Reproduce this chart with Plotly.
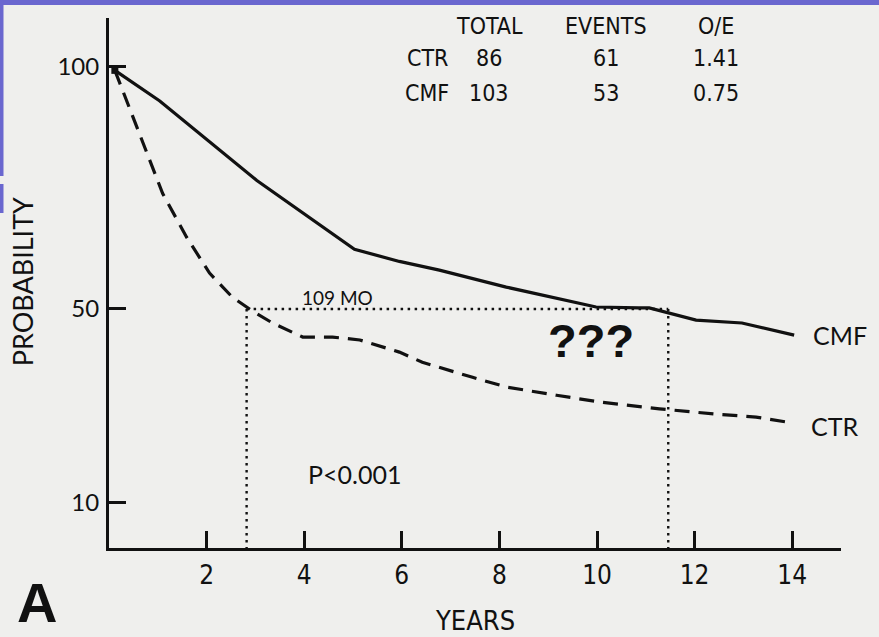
import plotly.graph_objects as go

# Survival curves (years, probability %)
cmf_years = [0.12, 1.04, 3.03, 5.03, 5.95, 6.77, 8.14, 9.98, 10.86, 11.07, 12.03, 12.97, 14.04]
cmf_prob = [99.2, 92.9, 76.5, 62.3, 59.8, 58.0, 54.5, 50.4, 50.2, 50.2, 47.7, 47.1, 44.6]

ctr_years = [0.12, 0.49, 0.83, 1.10, 1.59, 2.06, 2.53, 2.92, 3.35, 3.97, 4.58, 5.14, 5.95,
             6.42, 7.45, 8.14, 9.17, 10.05, 11.28, 12.44, 13.26, 14.00]
ctr_prob = [99.2, 89.5, 80.6, 73.8, 64.8, 57.4, 52.4, 49.7, 47.1, 44.2, 44.2, 43.6, 41.1,
            39.0, 35.9, 33.9, 32.2, 30.8, 29.4, 28.3, 27.7, 26.5]

# Median survival times (years) marked at the 50% level
median_ctr = 2.82
median_cmf = 11.46
median_level = 50

x_ticks = [2, 4, 6, 8, 10, 12, 14]
y_ticks = [10, 50, 100]

# Summary table
table_header = ["TOTAL", "EVENTS", "O/E"]
table_groups = ["CTR", "CMF"]
table_total = ["86", "103"]
table_events = ["61", "53"]
table_oe = ["1.41", "0.75"]

X_RANGE = [0, 15]
Y_RANGE = [0.7, 110]

INK = "#111111"
PAPER = "#efefed"
FRAME = "#6a67cf"
ROUND = "Lato, 'Open Sans', sans-serif"
NARROW = "'Liberation Sans Narrow', 'DejaVu Sans Condensed', sans-serif"

fig = go.Figure()

# Median guide lines
fig.add_trace(go.Scatter(
    x=[median_ctr, median_cmf], y=[median_level, median_level], mode="lines",
    line=dict(color=INK, width=2.4, dash="2.5px,4.5px"), hoverinfo="skip", showlegend=False))
for mx in (median_ctr, median_cmf):
    fig.add_trace(go.Scatter(
        x=[mx, mx], y=[median_level, Y_RANGE[0]], mode="lines",
        line=dict(color=INK, width=2.4, dash="2.5px,4.5px"), hoverinfo="skip", showlegend=False))

fig.add_trace(go.Scatter(
    x=ctr_years, y=ctr_prob, mode="lines", name="CTR",
    line=dict(color=INK, width=3.2, dash="15px,9px"), showlegend=False))
fig.add_trace(go.Scatter(
    x=cmf_years, y=cmf_prob, mode="lines", name="CMF",
    line=dict(color=INK, width=3.2), showlegend=False))
fig.add_trace(go.Scatter(
    x=[cmf_years[0]], y=[cmf_prob[0]], mode="markers",
    marker=dict(symbol="square", size=7, color=INK), hoverinfo="skip", showlegend=False))

ann = []
# Curve labels at the end of each curve
ann.append(dict(x=cmf_years[-1], y=cmf_prob[-1], text="CMF", xanchor="left", yanchor="middle",
                xshift=17, showarrow=False, font=dict(family=ROUND, size=25, color=INK)))
ann.append(dict(x=ctr_years[-1], y=ctr_prob[-1], text="CTR", xanchor="left", yanchor="middle",
                xshift=17, yshift=-3, showarrow=False, font=dict(family=ROUND, size=25, color=INK)))

ann.append(dict(x=4.68, y=52.3, text="109 MO", showarrow=False, xanchor="center", yanchor="middle",
                font=dict(family=ROUND, size=19, color=INK)))
ann.append(dict(x=9.87, y=43.5, text="<b>???</b>", showarrow=False, xanchor="center", yanchor="middle",
                font=dict(family="'Liberation Sans', Arial, sans-serif", size=47, color=INK)))
ann.append(dict(x=5.03, y=16.0, text="P<0.001", showarrow=False, xanchor="center", yanchor="middle",
                font=dict(family=ROUND, size=25, color=INK)))

# Table
col_x = [7.79, 10.19, 12.44]
row_label_x = 6.52
header_y = 108.4
row_y = [101.8, 94.6]
tfont = dict(family=NARROW, size=23, color=INK)
for cx, h in zip(col_x, table_header):
    ann.append(dict(x=cx, y=header_y, text=h, showarrow=False, xanchor="center", yanchor="middle",
                    font=tfont))
for i, g in enumerate(table_groups):
    ann.append(dict(x=row_label_x, y=row_y[i], text=g, showarrow=False, xanchor="center",
                    yanchor="middle", font=tfont))
    for cx, v in zip(col_x, (table_total[i], table_events[i], table_oe[i])):
        ann.append(dict(x=cx, y=row_y[i], text=v, showarrow=False, xanchor="center",
                        yanchor="middle", font=tfont))

# Axis titles and panel letter
ann.append(dict(xref="paper", yref="paper", x=-0.117, y=0.502, text="PROBABILITY",
                xanchor="center", yanchor="middle",
                textangle=-90, showarrow=False, font=dict(family=ROUND, size=27, color=INK)))
ann.append(dict(xref="paper", yref="paper", x=0.4997, y=-0.1377, text="YEARS",
                xanchor="center", yanchor="middle",
                showarrow=False, font=dict(family=NARROW, size=27, color=INK)))
ann.append(dict(xref="paper", yref="paper", x=-0.098, y=-0.102, text="<b>A</b>",
                xanchor="center", yanchor="middle",
                showarrow=False, font=dict(family="'Liberation Sans', Arial, sans-serif", size=56, color=INK)))

ML, MR, MT, MB = 109, 38, 18, 89
W, H = 879, 637
pw, ph = W - ML - MR, H - MT - MB


def px_x(p):
    return (p - ML) / pw


def px_y(p):
    return (H - MB - p) / ph


# Slide frame
shapes = [
    dict(type="rect", xref="paper", yref="paper", x0=px_x(0), x1=px_x(W), y0=px_y(5), y1=px_y(0),
         fillcolor=FRAME, line=dict(width=0), layer="below"),
    dict(type="rect", xref="paper", yref="paper", x0=px_x(0), x1=px_x(3.5), y0=px_y(176), y1=px_y(0),
         fillcolor=FRAME, line=dict(width=0), layer="below"),
    dict(type="rect", xref="paper", yref="paper", x0=px_x(0), x1=px_x(3.5), y0=px_y(213), y1=px_y(184),
         fillcolor=FRAME, line=dict(width=0), layer="below"),
]

fig.update_layout(
    width=W, height=H,
    margin=dict(l=ML, r=MR, t=MT, b=MB, pad=0),
    paper_bgcolor=PAPER, plot_bgcolor=PAPER,
    showlegend=False,
    annotations=ann,
    shapes=shapes,
    xaxis=dict(range=X_RANGE, tickvals=x_ticks, ticktext=[str(v) for v in x_ticks],
               showgrid=False, zeroline=False, showline=True, linecolor=INK, linewidth=3,
               ticks="inside", ticklen=17, tickwidth=2.5, tickcolor=INK,
               ticklabelstandoff=2,
               tickfont=dict(family=NARROW, size=26, color=INK)),
    yaxis=dict(range=Y_RANGE, tickvals=y_ticks, ticktext=[str(v) for v in y_ticks],
               showgrid=False, zeroline=False, showline=True, linecolor=INK, linewidth=3,
               ticks="inside", ticklen=17, tickwidth=2.5, tickcolor=INK,
               ticklabelstandoff=2,
               tickfont=dict(family=ROUND, size=24, color=INK)),
)

fig.write_html("out.html")
